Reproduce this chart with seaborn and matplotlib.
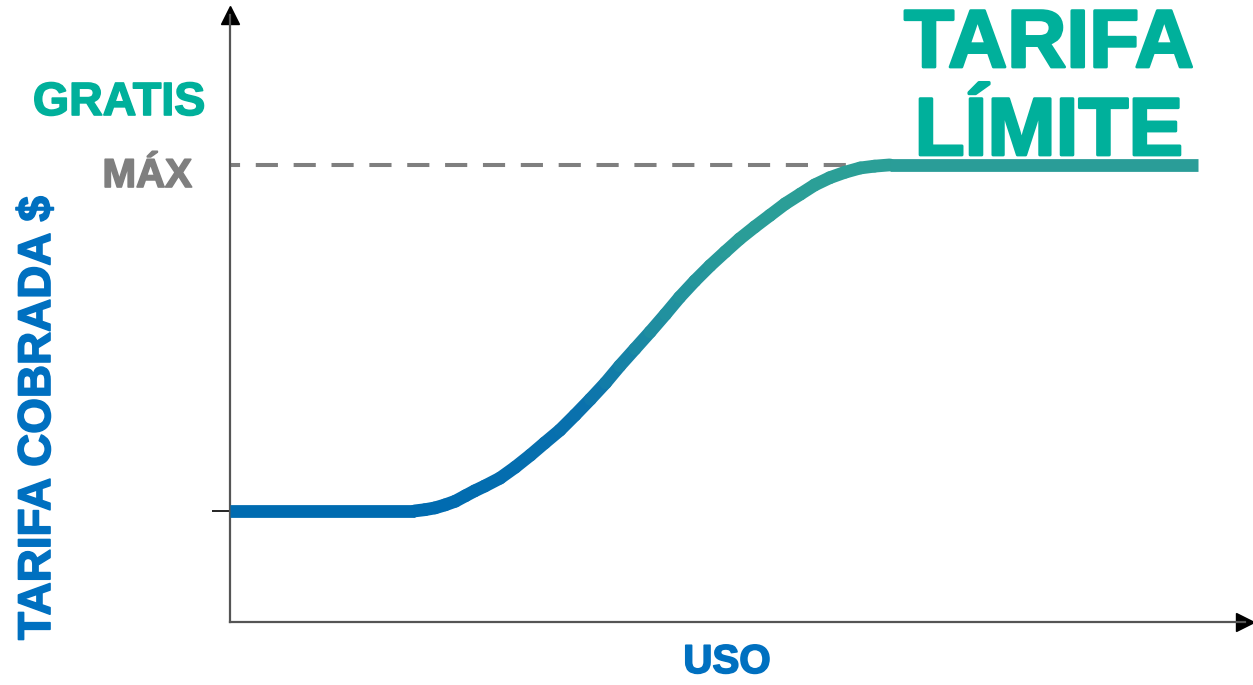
import numpy as np
import seaborn as sns
import matplotlib
matplotlib.use("Agg")
from matplotlib import pyplot as plt
import matplotlib.colors as mcol
import matplotlib.patheffects as pe
from matplotlib.collections import LineCollection

# Curve (arbitrary units, 0-100 on both axes)
uso = [0.0, 18.2, 19.2, 20.2, 21.2, 22.2, 23.2, 24.1, 25.1, 26.6, 28.1,
       29.6, 31.0, 32.5, 34.0, 35.5, 37.0, 38.4, 39.9, 41.4, 42.9,
       44.3, 45.8, 47.3, 48.8, 50.2, 51.7, 53.2, 54.7, 56.2, 57.6,
       59.1, 60.6, 62.1, 63.5, 65.0, 95.4]
tarifa = [18.3, 18.3, 18.5, 18.8, 19.3, 19.9, 20.8, 21.6, 22.4, 23.7, 25.5,
          27.5, 29.5, 31.6, 34.1, 36.7, 39.4, 42.2, 45.0, 47.8, 50.7,
          53.5, 56.2, 58.7, 61.0, 63.1, 65.1, 67.0, 68.9, 70.5, 72.0,
          73.2, 74.1, 74.8, 75.1, 75.3, 75.3]
nivel_max = 75.3
nivel_min = 18.3

azul = "#0070c0"
verde = "#00b09b"
gris = "#7f7f7f"

sns.set_style("white")
plt.rcParams["font.family"] = ["Liberation Sans", "DejaVu Sans"]

W, H = 1253, 685
fig = plt.figure(figsize=(W / 100, H / 100), dpi=100)
ax = fig.add_axes([230 / W, (H - 622) / H, (1245 - 230) / W, (622 - 15) / H])
ax.set_xlim(0, 100)
ax.set_ylim(0, 100)

for s in ["top", "right"]:
    ax.spines[s].set_visible(False)
for s in ["left", "bottom"]:
    ax.spines[s].set_color("#555555")
    ax.spines[s].set_linewidth(1.6)
ax.plot(1, 0, ">", color="black", ms=13, transform=ax.transAxes, clip_on=False)
ax.plot(0, 1, "^", color="black", ms=13, transform=ax.transAxes, clip_on=False)

ax.set_xticks([])
ax.set_yticks([nivel_min])
ax.set_yticklabels([""])
ax.tick_params(axis="y", length=13, width=1.2, color="black", direction="out", left=True)

# dashed MAX line
sns.lineplot(x=[0, uso[33]], y=[nivel_max, nivel_max], ax=ax, color=gris,
             linewidth=2.9, zorder=2)
ax.lines[-1].set_linestyle((3.0, (5.5, 3.9)))
ax.lines[-1].set_dash_capstyle("butt")

# gradient curve
cmap = mcol.LinearSegmentedColormap.from_list(
    "bt", [(0, "#006bb0"), (0.3, "#0a71ad"), (0.55, "#1f8ea0"), (0.8, "#2a9d98"), (1, "#2b9f97")])
x = np.array(uso)
y = np.array(tarifa)
pts = np.column_stack([x, y]).reshape(-1, 1, 2)
segs = np.concatenate([pts[:-1], pts[1:]], axis=1)[1:-1]
t = ((y[1:-2] + y[2:-1]) / 2 - nivel_min) / (nivel_max - nivel_min)
lw = 9.2
lc = LineCollection(segs, colors=cmap(t), linewidths=lw, capstyle="round",
                    joinstyle="round", zorder=3)
ax.add_collection(lc)
ax.plot(x[:2], y[:2], color="#006bb0", lw=lw, solid_capstyle="butt", zorder=4)
ax.plot(x[-2:], y[-2:], color="#2a9d98", lw=lw, solid_capstyle="butt", zorder=4)


def px(xp, yp):
    return xp / W, 1 - yp / H


def bold(c, w=1.2):
    return [pe.withStroke(linewidth=w, foreground=c)]


fig.text(*px(119, 115), "GRATIS", color=verde, fontsize=33.5, fontweight="bold",
         ha="center", va="baseline", path_effects=bold(verde))
fig.text(*px(192, 187), "MÁX", color=gris, fontsize=29, fontweight="bold",
         ha="right", va="baseline", path_effects=bold(gris))
fig.text(*px(1049, 67), "TARIFA", color=verde, fontsize=59, fontweight="bold",
         ha="center", va="baseline", path_effects=bold(verde, 2))
fig.text(*px(1049, 155), "LÍMITE", color=verde, fontsize=59, fontweight="bold",
         ha="center", va="baseline", path_effects=bold(verde, 2))
fig.text(*px(727, 673), "USO", color=azul, fontsize=29, fontweight="bold",
         ha="center", va="baseline", path_effects=bold(azul))
fig.text(*px(50, 418), "TARIFA COBRADA $", color=azul, fontsize=33, fontweight="bold",
         ha="center", va="baseline", rotation=90, rotation_mode="anchor",
         path_effects=bold(azul))

fig.savefig("out.png", dpi=100)
